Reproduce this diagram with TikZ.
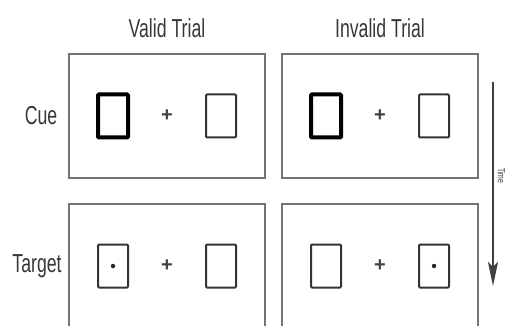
\documentclass[tikz,border=0pt]{standalone}
\usepackage{fontspec}
\setmainfont{Liberation Sans}
\newfontfamily\narrowsans[FakeStretch=0.68]{Liberation Sans}
\usetikzlibrary{arrows.meta, positioning}
\definecolor{labelgray}{RGB}{55,55,55}
\definecolor{framegray}{RGB}{115,115,115}
\tikzstyle{panel} = [rectangle, minimum width=196pt, minimum height=124pt, inner sep=0pt, draw=framegray, line width=2pt]
\tikzstyle{thinbox} = [rectangle, minimum width=30pt, minimum height=43pt, inner sep=0pt, draw=black!80, line width=2pt, rounded corners=1pt]
\tikzstyle{cuebox} = [thinbox, draw=black, line width=4pt]
\tikzstyle{fixation} = [text=black!75, font=\bfseries\fontsize{20}{20}\selectfont, inner sep=0pt]
\tikzstyle{dot} = [circle, fill=black!85, inner sep=0pt, minimum size=4.5pt]
\tikzstyle{heading} = [text=labelgray, font=\narrowsans\fontsize{26}{26}\selectfont, inner sep=0pt]

\begin{document}
\begin{tikzpicture}[x=1pt, y=-1pt, node distance=54pt]
\useasboundingbox (0,0) rectangle (506,326);
\node (validcue) [panel] at (167,116) {};
\node (invalidcue) [panel, right of=validcue, xshift=159pt] {};
\node (validtarget) [panel, below of=validcue, yshift=-96pt] {};
\node (invalidtarget) [panel, below of=invalidcue, yshift=-96pt] {};

% cue display
\node (vcl) [cuebox, left of=validcue] {};
\node (vcp) [fixation] at (validcue) {+};
\node (vcr) [thinbox, right of=validcue] {};
\node (icl) [cuebox, left of=invalidcue] {};
\node (icp) [fixation] at (invalidcue) {+};
\node (icr) [thinbox, right of=invalidcue] {};

% target display
\node (vtl) [thinbox, left of=validtarget] {};
\node (vtp) [fixation] at (validtarget) {+};
\node (vtr) [thinbox, right of=validtarget] {};
\node (vtd) [dot] at (vtl) {};
\node (itl) [thinbox, left of=invalidtarget] {};
\node (itp) [fixation] at (invalidtarget) {+};
\node (itr) [thinbox, right of=invalidtarget] {};
\node (itd) [dot] at (itr) {};

\node (validlabel) [heading, above of=validcue, yshift=34pt] {Valid Trial};
\node (invalidlabel) [heading, above of=invalidcue, yshift=34pt] {Invalid Trial};
\node (cuelabel) [heading, left of=validcue, xshift=-72pt] {Cue};
\node (targetlabel) [heading, left of=validtarget, xshift=-76pt] {Target};

\coordinate (timestart) at (493,82);
\coordinate (timeend) at (493,286);
\draw[draw=black!75, line width=1.8pt, -{Stealth[length=24pt, width=10pt, inset=5pt]}] (timestart) -- (timeend);
\node (timelabel) [heading, rotate=-90, font=\narrowsans\fontsize{10}{10}\selectfont] at (501.5,176) {Time};
\end{tikzpicture}
\end{document}
